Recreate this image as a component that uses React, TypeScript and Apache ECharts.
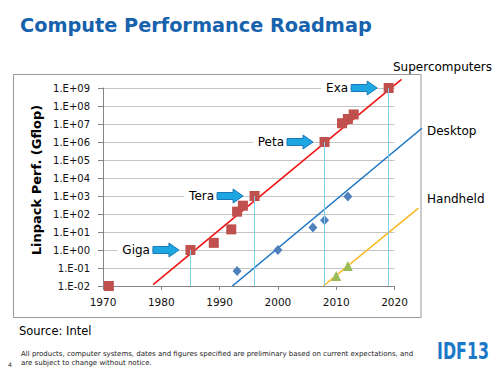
import React, { useEffect, useRef } from "react";
import * as echarts from "echarts";

const yTickLabels = [
  "1.E-02", "1.E-01", "1.E+00", "1.E+01", "1.E+02", "1.E+03",
  "1.E+04", "1.E+05", "1.E+06", "1.E+07", "1.E+08", "1.E+09",
];

const superYears = [1971, 1985, 1989, 1992, 1993, 1994, 1996, 2008, 2011, 2012, 2013, 2019];
const superValues = [0.01, 1, 2.5, 14, 135, 290, 1000, 1e6, 1.1e7, 1.9e7, 3.4e7, 1e9];

const desktopYears = [1993, 2000, 2006, 2008, 2012];
const desktopValues = [0.068, 1.0, 18, 45, 950];

const handheldYears = [2010, 2012];
const handheldValues = [0.036, 0.13];

const superTrendYears = [1978.6, 2021.2];
const superTrendValues = [0.012, 3e9];
const desktopTrendYears = [1992.2, 2024.7];
const desktopTrendValues = [0.01, 5.8e6];
const handheldTrendYears = [2007.8, 2024.1];
const handheldTrendValues = [0.01, 210];

const milestoneNames = ["Giga", "Tera", "Peta", "Exa"];
const milestoneYears = [1985, 1996, 2008, 2019];
const milestoneValues = [1, 1e3, 1e6, 1e9];

const seriesNames = ["Supercomputers", "Desktop", "Handheld"];

const FONT = '"DejaVu Sans", Verdana, sans-serif';

const pairs = (xs: number[], ys: number[]) => xs.map((x, i) => [x, ys[i]]);

export default function App() {
  const ref = useRef<HTMLDivElement>(null);

  useEffect(() => {
    if (!ref.current) return;
    const chart = echarts.init(ref.current, null, { renderer: "svg" });

    const option: any = {
      animation: false,
      backgroundColor: "#ffffff",
      grid: { left: 103, right: 105.5, top: 88, bottom: 84 },
      xAxis: {
        type: "value",
        min: 1970,
        max: 2020,
        interval: 10,
        axisLine: { lineStyle: { color: "#868686", width: 1 } },
        axisTick: { show: true, length: 4, lineStyle: { color: "#868686" } },
        axisLabel: {
          color: "#111",
          fontSize: 10.5,
          fontFamily: FONT,
          margin: 10,
          formatter: (v: number) => String(v),
        },
        splitLine: { show: false },
      },
      yAxis: {
        type: "log",
        logBase: 10,
        min: 0.01,
        max: 1e9,
        interval: 1,
        axisLine: { show: true, lineStyle: { color: "#868686", width: 1 } },
        axisTick: { show: true, length: 5, lineStyle: { color: "#868686" } },
        axisLabel: {
          color: "#111",
          fontSize: 10,
          fontFamily: FONT,
          margin: 13,
          formatter: (v: number) => {
            const e = Math.round(Math.log10(v));
            return yTickLabels[e + 2] ?? "";
          },
        },
        splitLine: { show: true, lineStyle: { color: "#c4c4c4", width: 1 } },
      },
      series: [
        {
          name: seriesNames[0],
          type: "scatter",
          data: pairs(superYears, superValues),
          symbol: "rect",
          symbolSize: 10,
          clip: false,
          itemStyle: { color: "#c0504d", opacity: 1 },
          z: 4,
          markLine: {
            silent: true,
            symbol: "none",
            label: { show: false },
            lineStyle: { color: "#7ed0ea", width: 1, type: "solid" },
            data: milestoneYears.map((y, i) => [
              { coord: [y, milestoneValues[i]] },
              { coord: [y, 0.01] },
            ]),
          },
        },
        {
          name: seriesNames[1],
          type: "scatter",
          data: pairs(desktopYears, desktopValues),
          symbol: "diamond",
          symbolSize: [9, 10],
          itemStyle: { color: "#4f81bd", opacity: 1 },
          z: 4,
        },
        {
          name: seriesNames[2],
          type: "scatter",
          data: pairs(handheldYears, handheldValues),
          symbol: "triangle",
          symbolSize: 10,
          itemStyle: { color: "#9bbb59", opacity: 1 },
          z: 4,
        },
      ],
    };

    chart.setOption(option);

    const px = (x: number, y: number) =>
      chart.convertToPixel({ gridIndex: 0 }, [x, y]) as number[];

    const graphics: any[] = [
      {
        type: "rect",
        silent: true,
        shape: { x: 13.5, y: 74.5, width: 407.5, height: 243 },
        style: { fill: "none", stroke: "#9a9a9a", lineWidth: 1 },
        z: 1,
      },
      {
        type: "text",
        x: 20,
        y: 25,
        style: {
          text: "Compute Performance Roadmap",
          font: `bold 19.3px ${FONT}`,
          fill: "#1662ad",
          align: "left",
          verticalAlign: "middle",
        },
      },
      {
        type: "text",
        x: 36,
        y: 180,
        rotation: Math.PI / 2,
        style: {
          text: "Linpack Perf. (Gflop)",
          font: `bold 13px ${FONT}`,
          fill: "#000",
          align: "center",
          verticalAlign: "middle",
        },
      },
      {
        type: "text",
        x: 393,
        y: 67,
        style: { text: seriesNames[0], font: `12px ${FONT}`, fill: "#000", align: "left", verticalAlign: "middle" },
      },
      {
        type: "text",
        x: 427,
        y: 131,
        style: { text: seriesNames[1], font: `12px ${FONT}`, fill: "#000", align: "left", verticalAlign: "middle" },
      },
      {
        type: "text",
        x: 427,
        y: 199,
        style: { text: seriesNames[2], font: `12px ${FONT}`, fill: "#000", align: "left", verticalAlign: "middle" },
      },
      {
        type: "text",
        x: 19,
        y: 331,
        style: { text: "Source: Intel", font: `11.5px ${FONT}`, fill: "#000", align: "left", verticalAlign: "middle" },
      },
      {
        type: "text",
        x: 21,
        y: 354,
        style: {
          text: "All products, computer systems, dates and figures specified are preliminary based on current expectations, and",
          font: `7px ${FONT}`,
          fill: "#222",
          align: "left",
          verticalAlign: "middle",
        },
      },
      {
        type: "text",
        x: 21,
        y: 363,
        style: {
          text: "are subject to change without notice.",
          font: `7px ${FONT}`,
          fill: "#222",
          align: "left",
          verticalAlign: "middle",
        },
      },
      {
        type: "text",
        x: 8,
        y: 364,
        style: { text: "4", font: `6.3px ${FONT}`, fill: "#333", align: "left", verticalAlign: "middle" },
      },
      {
        type: "text",
        x: 437,
        y: 351,
        scaleX: 0.69,
        style: {
          text: "IDF13",
          font: `bold 23px ${FONT}`,
          fill: "#1b78c8",
          align: "left",
          verticalAlign: "middle",
        },
      },
    ];

    const trends: [number[], number[], string][] = [
      [superTrendYears, superTrendValues, "#f01414"],
      [desktopTrendYears, desktopTrendValues, "#1b74c4"],
      [handheldTrendYears, handheldTrendValues, "#fbb820"],
    ];
    trends.forEach(([xs, ys, color]) => {
      const a = px(xs[0], ys[0]);
      const b = px(xs[1], ys[1]);
      graphics.push({
        type: "line",
        silent: true,
        z: 2,
        shape: { x1: a[0], y1: a[1], x2: b[0], y2: b[1] },
        style: { stroke: color, lineWidth: 1.6 },
      });
    });

    milestoneNames.forEach((name, i) => {
      const p = px(milestoneYears[i], milestoneValues[i]);
      const tx = p[0] - 11.5;
      const ty = p[1];
      graphics.push({
        type: "text",
        x: tx - 27,
        y: ty,
        z: 10,
        style: {
          text: name,
          font: `12px ${FONT}`,
          fill: "#000",
          align: "right",
          verticalAlign: "middle",
          backgroundColor: "#ffffff",
          padding: [2, 2, 2, 5],
        },
      });
      graphics.push({
        type: "polygon",
        z: 11,
        shape: {
          points: [
            [tx - 26, ty - 3.5],
            [tx - 10, ty - 3.5],
            [tx - 10, ty - 7],
            [tx, ty],
            [tx - 10, ty + 7],
            [tx - 10, ty + 3.5],
            [tx - 26, ty + 3.5],
          ],
        },
        style: { fill: "#1ea6e2", stroke: "#1a78b8", lineWidth: 1 },
      });
    });

    chart.setOption({ graphic: graphics });

    return () => chart.dispose();
  }, []);

  return (
    <div
      ref={ref}
      style={{ position: "absolute", left: 0, top: 0, width: 500, height: 370 }}
    />
  );
}
